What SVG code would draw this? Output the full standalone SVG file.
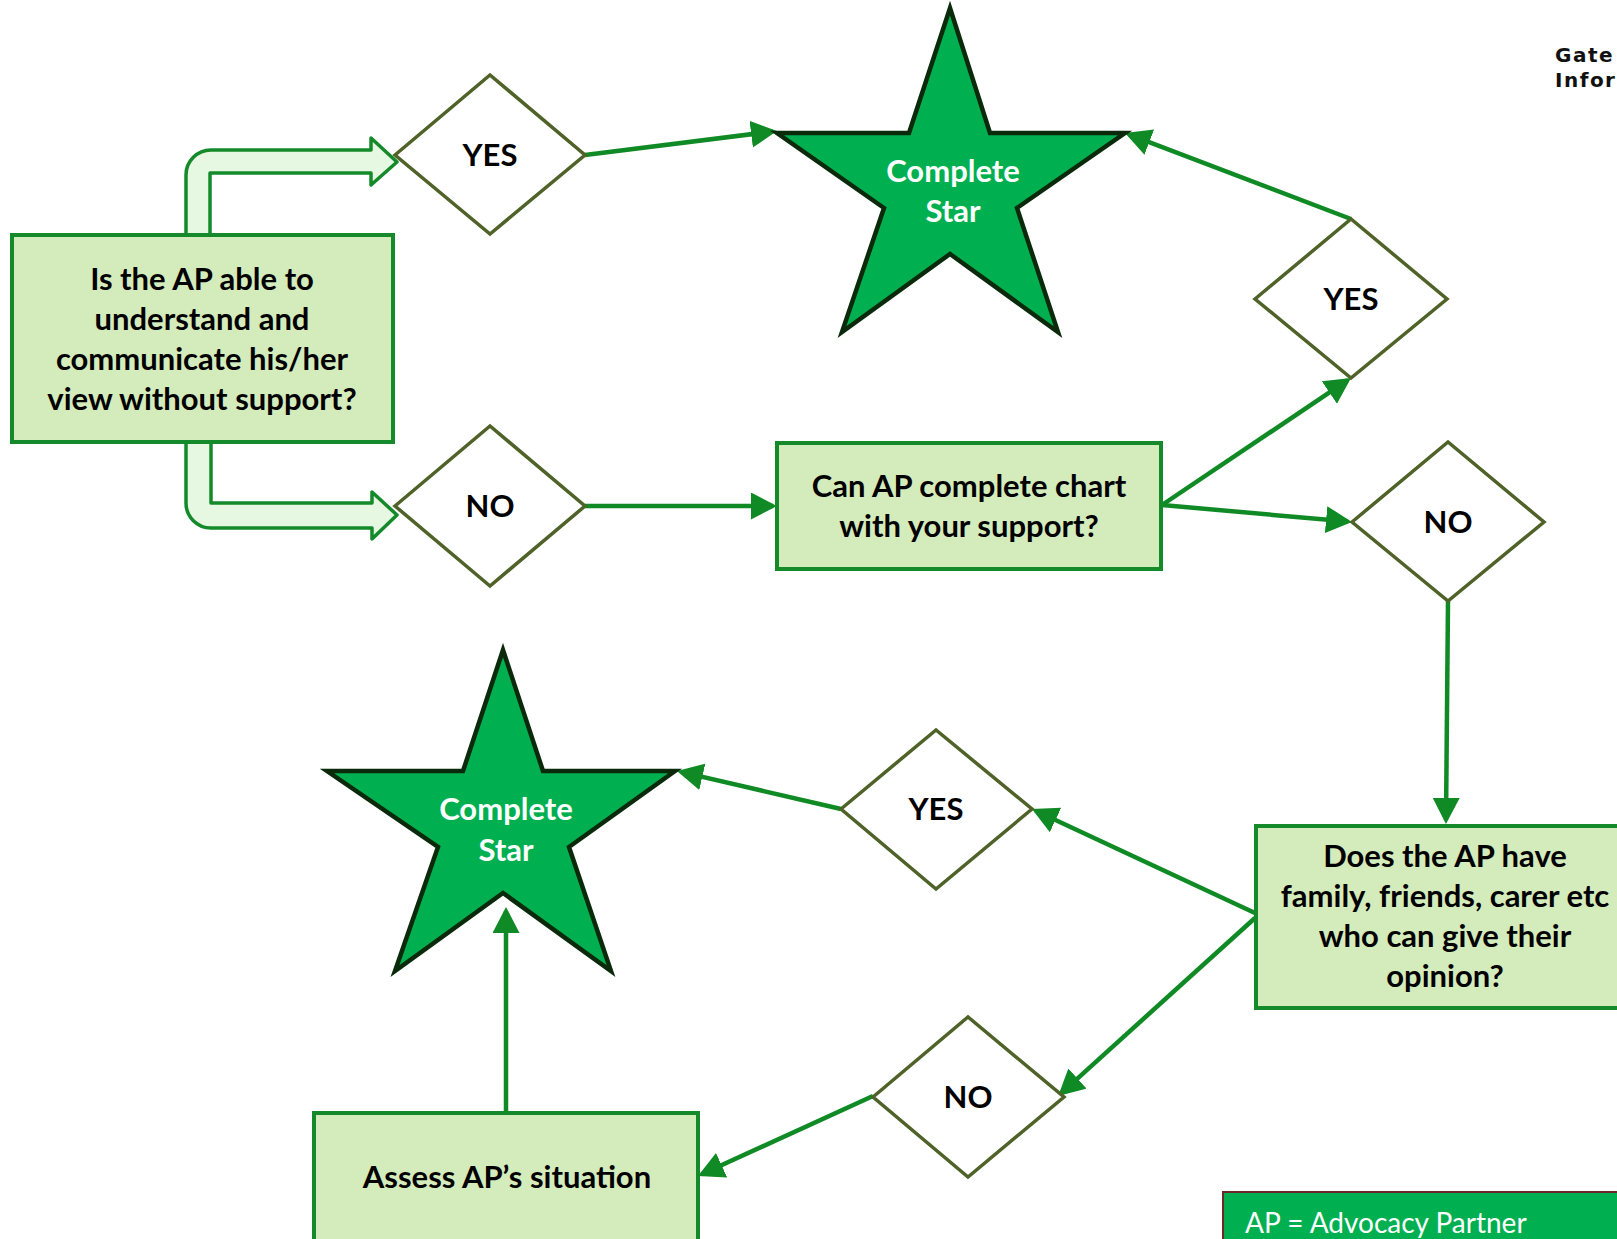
<svg xmlns="http://www.w3.org/2000/svg" width="1617" height="1239" viewBox="0 0 1617 1239">
<style>
.box{fill:#D4EBBC;stroke:#148A2A;stroke-width:4}
.dia{fill:#FFFFFF;stroke:#4F6228;stroke-width:3.5}
.star{fill:#00B050;stroke:#0B2A0B;stroke-width:4.5;stroke-linejoin:miter}
.blk{fill:#E6F8E2;stroke:#148A2A;stroke-width:3.5;stroke-linejoin:round}
.con{fill:none;stroke:#0F8A24;stroke-width:4.5;marker-end:url(#ah)}
.t{font-family:Lato,"Open Sans","Liberation Sans",sans-serif;font-weight:bold;font-size:31px;fill:#000;text-anchor:middle}
.tw{font-family:Lato,"Open Sans","Liberation Sans",sans-serif;font-weight:bold;font-size:31px;fill:#FFFFFF;text-anchor:middle}
.logo{font-family:"DejaVu Sans",sans-serif;font-size:20px;font-weight:bold;letter-spacing:1.5px;fill:#111}
</style>
<defs>
<marker id="ah" markerUnits="userSpaceOnUse" markerWidth="28" markerHeight="28" refX="22" refY="13.5" orient="auto">
<path d="M0,0 L26,13.5 L0,27 Z" fill="#0F8A24"/>
</marker>
</defs>
<rect width="1617" height="1239" fill="#FFFFFF"/>

<g id="logo">
<text class="logo" x="1555" y="62">Gate</text>
<text class="logo" x="1555" y="87">Infor</text>
</g>

<g id="block-arrows">
<path class="blk" d="M186,236 L186,175 A25,25 0 0 1 211,150 L371,150 L371,138 L397,162 L371,185 L371,173 L210,173 L210,236 Z"/>
<path class="blk" d="M186,441 L186,503 A25,25 0 0 0 211,528 L372,528 L372,539 L397,515 L372,492 L372,503 L211,503 L211,441 Z"/>
</g>

<g id="connectors">
<line class="con" x1="585" y1="155" x2="773" y2="131.5"/>
<line class="con" x1="1351" y1="219" x2="1128.7" y2="134.4"/>
<line class="con" x1="585" y1="506" x2="773" y2="506"/>
<line class="con" x1="1162" y1="505" x2="1347.7" y2="380.2"/>
<line class="con" x1="1162" y1="505" x2="1348" y2="521.6"/>
<line class="con" x1="1448" y1="601" x2="1446" y2="820"/>
<line class="con" x1="1255" y1="913" x2="1035.6" y2="810.7"/>
<line class="con" x1="841" y1="809" x2="680.9" y2="771.9"/>
<line class="con" x1="1255" y1="918" x2="1061.1" y2="1093.3"/>
<line class="con" x1="873" y1="1096" x2="701.6" y2="1174.3"/>
<line class="con" x1="506" y1="1113" x2="506" y2="911"/>
</g>

<g id="box-able">
<rect class="box" x="12" y="235" width="381" height="207"/>
<text class="t" x="202" y="290">Is the AP able to</text>
<text class="t" x="202" y="330">understand and</text>
<text class="t" x="202" y="370">communicate his/her</text>
<text class="t" x="202" y="410">view without support?</text>
</g>

<g id="d-yes-1">
<polygon class="dia" points="395,155 490,75 585,155 490,234"/>
<text class="t" x="490" y="166">YES</text>
</g>

<g id="d-no-1">
<polygon class="dia" points="395,506 490,426 585,506 490,586"/>
<text class="t" x="490" y="517">NO</text>
</g>

<g id="star-1">
<polygon class="star" points="950,8 990,133 1125,133 1017,208 1058,332 950,254 842,332 884,208 777,133 909,133"/>
<text class="tw" x="953" y="182">Complete</text>
<text class="tw" x="953" y="222">Star</text>
</g>

<g id="box-chart">
<rect class="box" x="777" y="443" width="384" height="126"/>
<text class="t" x="969" y="497">Can AP complete chart</text>
<text class="t" x="969" y="537">with your support?</text>
</g>

<g id="d-yes-2">
<polygon class="dia" points="1255,299 1351,219 1447,299 1351,378"/>
<text class="t" x="1351" y="310">YES</text>
</g>

<g id="d-no-2">
<polygon class="dia" points="1352,522 1448,442 1544,522 1448,601"/>
<text class="t" x="1448" y="533">NO</text>
</g>

<g id="box-family">
<rect class="box" x="1256" y="826" width="380" height="182"/>
<text class="t" x="1445" y="867">Does the AP have</text>
<text class="t" x="1445" y="907">family, friends, carer etc</text>
<text class="t" x="1445" y="947">who can give their</text>
<text class="t" x="1445" y="987">opinion?</text>
</g>

<g id="d-yes-3">
<polygon class="dia" points="841,809 936,730 1032,809 936,889"/>
<text class="t" x="936" y="820">YES</text>
</g>

<g id="d-no-3">
<polygon class="dia" points="873,1097 968,1017 1064,1097 968,1177"/>
<text class="t" x="968" y="1108">NO</text>
</g>

<g id="star-2">
<polygon class="star" points="503,650 543,771 675,771 569,847 611,971 503,893 395,971 438,847 327,771 463,771"/>
<text class="tw" x="506" y="820">Complete</text>
<text class="tw" x="506" y="861">Star</text>
</g>

<g id="box-assess">
<rect class="box" x="314" y="1113" width="384" height="140"/>
<text class="t" x="507" y="1188">Assess AP’s situation</text>
</g>

<g id="legend">
<rect x="1223" y="1192" width="420" height="70" fill="#00B050" stroke="#6B2A2A" stroke-width="2"/>
<text x="1245" y="1233" font-family="Lato,'Open Sans','Liberation Sans',sans-serif" font-size="28" fill="#FFFFFF">AP = Advocacy Partner</text>
</g>
</svg>
